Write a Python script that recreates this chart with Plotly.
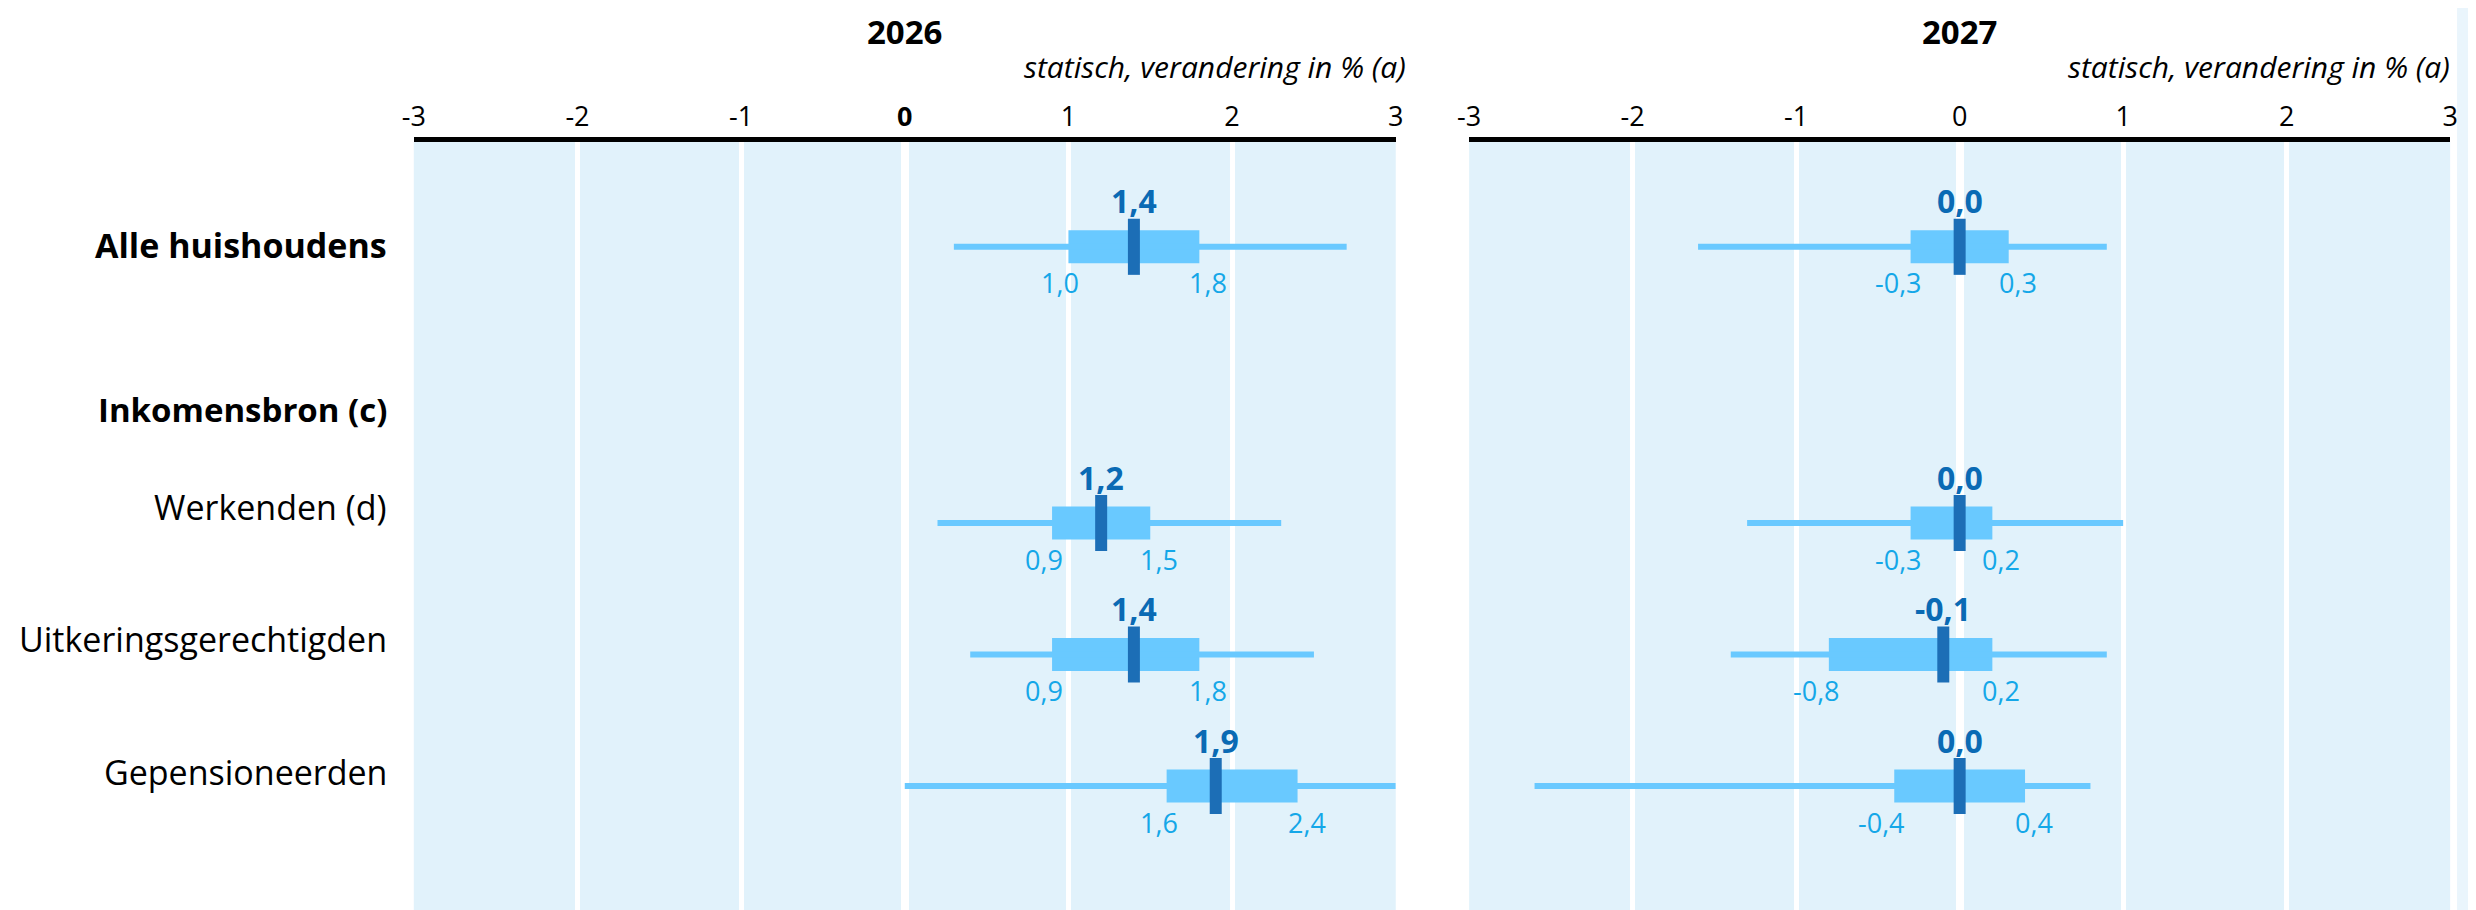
import plotly.graph_objects as go

# ---------------- data ----------------
GROUPS = ["Alle huishoudens", "Werkenden (d)", "Uitkeringsgerechtigden", "Gepensioneerden"]
HEADER = "Inkomensbron (c)"
YEARS = ["2026", "2027"]
SUBTITLE = "statisch, verandering in % (a)"

MED_2026 = [1.4, 1.2, 1.4, 1.9]
Q1_2026 = [1.0, 0.9, 0.9, 1.6]
Q3_2026 = [1.8, 1.5, 1.8, 2.4]
LO_2026 = [0.3, 0.2, 0.4, 0.0]
HI_2026 = [2.7, 2.3, 2.5, 3.0]

MED_2027 = [0.0, 0.0, -0.1, 0.0]
Q1_2027 = [-0.3, -0.3, -0.8, -0.4]
Q3_2027 = [0.3, 0.2, 0.2, 0.4]
LO_2027 = [-1.6, -1.3, -1.4, -2.6]
HI_2027 = [0.9, 1.0, 0.9, 0.8]

TICKS = [-3, -2, -1, 0, 1, 2, 3]
TICKTEXT_2026 = ["-3", "-2", "-1", "<b>0</b>", "1", "2", "3"]
TICKTEXT_2027 = ["-3", "-2", "-1", "0", "1", "2", "3"]

# ---------------- layout constants ----------------
OFF = 8                      # default page body margin
W, H = 2476 - OFF, 910 - OFF  # figure size
ROW_POS = [-2.1, 0, 1, 2]    # vertical slot of each group
HEADER_POS = -0.86
LABEL_SHIFT = [2, 16, 16, 14]
FONT = "Open Sans"
BG = "#E1F2FB"
BOX_C = "#69C9FF"
MED_C = "#1C6EB6"
MEDTXT_C = "#0A6AB4"
SMALL_C = "#14A7E8"

def px(x):
    return x - OFF

PX_PER_UNIT = 131.5
ROW0_PX = px(523)
TOP_PX = px(142)
y_top = (TOP_PX - ROW0_PX) / PX_PER_UNIT
y_bot = (H - ROW0_PX) / PX_PER_UNIT

def fmt(v):
    s = f"{abs(v):.1f}".replace(".", ",")
    return ("-" + s) if v < 0 else s

panels = [
    dict(year=YEARS[0], med=MED_2026, q1=Q1_2026, q3=Q3_2026, lo=LO_2026, hi=HI_2026,
         ticktext=TICKTEXT_2026, xa="x", ya="y", dom=[px(405) / W, px(1395) / W], subshift=12),
    dict(year=YEARS[1], med=MED_2027, q1=Q1_2027, q3=Q3_2027, lo=LO_2027, hi=HI_2027,
         ticktext=TICKTEXT_2027, xa="x2", ya="y2", dom=[px(1469) / W, px(2458) / W], subshift=2),
]

fig = go.Figure()
annotations = []

for p in panels:
    # whiskers
    wx, wy = [], []
    for lo, hi, r in zip(p["lo"], p["hi"], ROW_POS):
        wx += [lo, hi, None]
        wy += [r, r, None]
    fig.add_trace(go.Scatter(x=wx, y=wy, mode="lines", line=dict(color=BOX_C, width=6),
                             xaxis=p["xa"], yaxis=p["ya"], hoverinfo="skip", showlegend=False))
    # boxes
    fig.add_trace(go.Bar(orientation="h", base=p["q1"],
                         x=[b - a for a, b in zip(p["q1"], p["q3"])],
                         y=ROW_POS, width=0.251, marker=dict(color=BOX_C, line=dict(width=0)),
                         xaxis=p["xa"], yaxis=p["ya"], hoverinfo="skip", showlegend=False))
    # medians (line-ns marker length = 1.4 * size)
    fig.add_trace(go.Scatter(x=p["med"], y=ROW_POS, mode="markers",
                             marker=dict(symbol="line-ns", size=40, color=MED_C,
                                         line=dict(width=12, color=MED_C)),
                             xaxis=p["xa"], yaxis=p["ya"], hoverinfo="skip", showlegend=False))
    for m, a, b, r in zip(p["med"], p["q1"], p["q3"], ROW_POS):
        annotations.append(dict(x=m, y=r, xref=p["xa"], yref=p["ya"], text=f"<b>{fmt(m)}</b>",
                                showarrow=False, xanchor="center", yanchor="middle", yshift=46,
                                font=dict(family=FONT, size=32, color=MEDTXT_C)))
        annotations.append(dict(x=a, y=r, xref=p["xa"], yref=p["ya"], text=fmt(a),
                                showarrow=False, xanchor="right", yanchor="middle", yshift=-36,
                                xshift=13, font=dict(family=FONT, size=27, color=SMALL_C)))
        annotations.append(dict(x=b, y=r, xref=p["xa"], yref=p["ya"], text=fmt(b),
                                showarrow=False, xanchor="left", yanchor="middle", yshift=-36,
                                xshift=-12, font=dict(family=FONT, size=27, color=SMALL_C)))
    # titles
    annotations.append(dict(x=0, y=1 - px(31) / H, xref=p["xa"], yref="paper", text=f"<b>{p['year']}</b>",
                            showarrow=False, xanchor="center", yanchor="middle",
                            font=dict(family=FONT, size=33, color="black")))
    annotations.append(dict(x=3, y=1 - px(66) / H, xref=p["xa"], yref="paper", text=f"<i>{SUBTITLE}</i>",
                            showarrow=False, xanchor="right", yanchor="middle", xshift=p["subshift"],
                            font=dict(family=FONT, size=30, color="black")))

# category labels
for g, r, s in zip(GROUPS, ROW_POS, LABEL_SHIFT):
    txt = f"<b>{g}</b>" if g == GROUPS[0] else g
    annotations.append(dict(x=px(380) / W, y=r, xref="paper", yref="y", text=txt, showarrow=False,
                            xanchor="right", yanchor="middle", yshift=s,
                            font=dict(family=FONT, size=34, color="black")))
annotations.append(dict(x=px(380) / W, y=HEADER_POS, xref="paper", yref="y", text=f"<b>{HEADER}</b>",
                        showarrow=False, xanchor="right", yanchor="middle",
                        font=dict(family=FONT, size=33, color="black")))

xcommon = dict(range=[-3, 3], side="top", tickvals=TICKS, showgrid=True, gridcolor="white",
               gridwidth=5, zeroline=True, zerolinecolor="white", zerolinewidth=8,
               showline=True, linecolor="black", linewidth=5, ticks="",
               tickfont=dict(family=FONT, size=27, color="black"), fixedrange=True)
ycommon = dict(range=[y_bot, y_top], domain=[0, 1 - TOP_PX / H], visible=False, fixedrange=True,
               showgrid=False, zeroline=False)

fig.update_layout(
    width=W, height=H, margin=dict(l=0, r=0, t=0, b=0),
    paper_bgcolor="white", plot_bgcolor=BG, barmode="overlay",
    font=dict(family=FONT, color="black"),
    xaxis=dict(xcommon, domain=panels[0]["dom"], anchor="y", ticktext=TICKTEXT_2026),
    xaxis2=dict(xcommon, domain=panels[1]["dom"], anchor="y2", ticktext=TICKTEXT_2027),
    yaxis=dict(ycommon, anchor="x"),
    yaxis2=dict(ycommon, anchor="x2"),
    annotations=annotations,
    shapes=[dict(type="rect", xref="paper", yref="paper", x0=px(2465) / W, x1=1, y0=0, y1=1,
                 fillcolor="#EAF5FC", line=dict(width=0), layer="below")],
    showlegend=False,
)

fig.write_html("out.html")
